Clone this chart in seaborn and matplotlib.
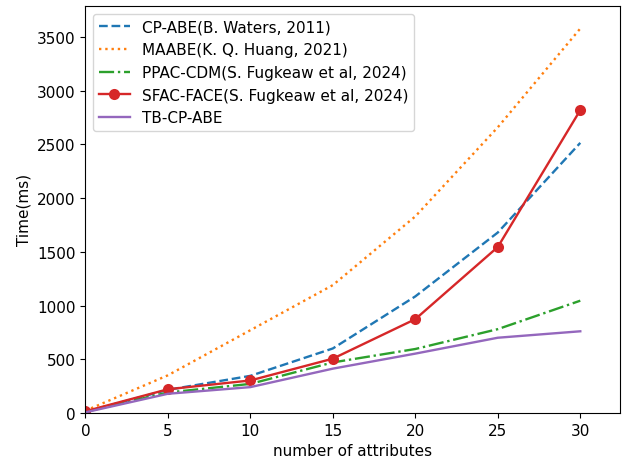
import matplotlib
matplotlib.use('Agg')
from matplotlib import pyplot as plt
import seaborn as sns
import pandas as pd

attributes = [0, 5, 10, 15, 20, 25, 30]
cp_abe = [10, 215, 345, 600, 1085, 1680, 2515]
maabe = [20, 350, 770, 1190, 1830, 2660, 3580]
ppac_cdm = [10, 190, 270, 470, 595, 780, 1045]
sfac_face = [15, 220, 302, 505, 873, 1545, 2820]
tb_cp_abe = [5, 178, 240, 412, 552, 700, 760]

series = {
    "CP-ABE(B. Waters, 2011)": (cp_abe, "#1f77b4", "--", None),
    "MAABE(K. Q. Huang, 2021)": (maabe, "#ff7f0e", ":", None),
    "PPAC-CDM(S. Fugkeaw et al, 2024)": (ppac_cdm, "#2ca02c", "-.", None),
    "SFAC-FACE(S. Fugkeaw et al, 2024)": (sfac_face, "#d62728", "-", "o"),
    "TB-CP-ABE": (tb_cp_abe, "#9467bd", "-", None),
}

plt.rcParams["font.size"] = 11

fig = plt.figure(figsize=(6.23, 4.64), dpi=100)
ax = fig.add_axes([0.137, 0.108, 0.858, 0.877])

for name, (vals, color, ls, marker) in series.items():
    df = pd.DataFrame({"x": attributes, "y": vals})
    sns.lineplot(data=df, x="x", y="y", ax=ax, color=color, linestyle=ls,
                 marker=marker, markersize=8, markeredgewidth=0, label=name,
                 linewidth=1.7)

ax.set_xlim(0, 32.4)
ax.set_ylim(0, 3790)
ax.set_xlabel("number of attributes")
ax.set_ylabel("Time(ms)")
ax.legend(loc="upper left")
fig.savefig("out.png", dpi=100)
